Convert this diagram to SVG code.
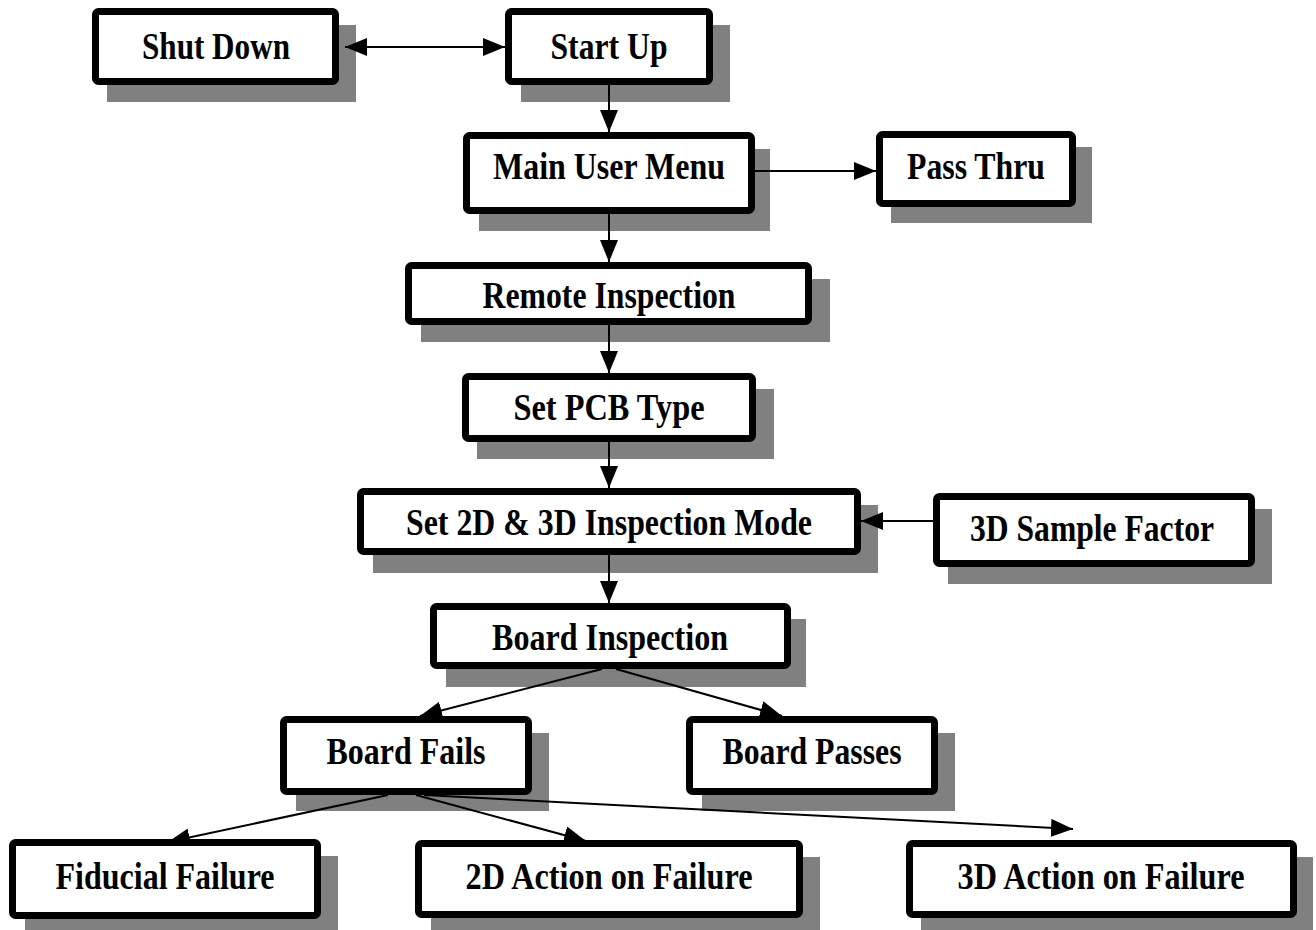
<svg xmlns="http://www.w3.org/2000/svg" width="1316" height="930" viewBox="0 0 1316 930">
<defs>
<style>
.sh{fill:#808080;stroke:none}
.bx{fill:#fff;stroke:#000;stroke-width:7;stroke-linejoin:round}
.t{font-family:"Liberation Serif","Times New Roman",serif;font-weight:bold;font-size:37px;fill:#000;text-anchor:middle}
.c{stroke:#000;stroke-width:2;fill:none}
</style>
<marker id="ah" markerUnits="userSpaceOnUse" markerWidth="22" markerHeight="18" refX="22" refY="9" orient="auto-start-reverse" viewBox="0 0 22 18">
<path d="M0,0 L22,9 L0,18 z" fill="#000"/>
</marker>
</defs>
<rect width="1316" height="930" fill="#fff"/>
<g id="shut-down">
<rect class="sh" x="107" y="25" width="249" height="77"/>
<rect class="bx" x="95.5" y="11.5" width="240" height="70" rx="3"/>
<text class="t" x="216" y="59" textLength="148" lengthAdjust="spacingAndGlyphs">Shut Down</text>
</g>
<g id="start-up">
<rect class="sh" x="521" y="25" width="209" height="77"/>
<rect class="bx" x="508.5" y="11.5" width="201" height="70" rx="3"/>
<text class="t" x="609" y="59" textLength="117" lengthAdjust="spacingAndGlyphs">Start Up</text>
</g>
<g id="main-user-menu">
<rect class="sh" x="479" y="149" width="291" height="82"/>
<rect class="bx" x="466.5" y="135.5" width="285" height="75" rx="3"/>
<text class="t" x="609" y="179" textLength="232" lengthAdjust="spacingAndGlyphs">Main User Menu</text>
</g>
<g id="pass-thru">
<rect class="sh" x="891" y="147" width="201" height="76"/>
<rect class="bx" x="879.5" y="134.5" width="193" height="69" rx="3"/>
<text class="t" x="976" y="179" textLength="138" lengthAdjust="spacingAndGlyphs">Pass Thru</text>
</g>
<g id="remote-inspection">
<rect class="sh" x="421" y="279" width="409" height="63"/>
<rect class="bx" x="408.5" y="265.5" width="400" height="56" rx="3"/>
<text class="t" x="609" y="308" textLength="253" lengthAdjust="spacingAndGlyphs">Remote Inspection</text>
</g>
<g id="set-pcb-type">
<rect class="sh" x="477" y="389" width="297" height="70"/>
<rect class="bx" x="465.5" y="376.5" width="287" height="62" rx="3"/>
<text class="t" x="609" y="420" textLength="191" lengthAdjust="spacingAndGlyphs">Set PCB Type</text>
</g>
<g id="set-2d-3d">
<rect class="sh" x="373" y="505" width="505" height="68"/>
<rect class="bx" x="360.5" y="491.5" width="497" height="60" rx="3"/>
<text class="t" x="609" y="535" textLength="406" lengthAdjust="spacingAndGlyphs">Set 2D &amp; 3D Inspection Mode</text>
</g>
<g id="sample-factor">
<rect class="sh" x="948" y="509" width="324" height="75"/>
<rect class="bx" x="936.5" y="496.5" width="315" height="67" rx="3"/>
<text class="t" x="1092" y="541" textLength="244" lengthAdjust="spacingAndGlyphs">3D Sample Factor</text>
</g>
<g id="board-inspection">
<rect class="sh" x="446" y="619" width="360" height="68"/>
<rect class="bx" x="433.5" y="606.5" width="354" height="59" rx="3"/>
<text class="t" x="610" y="650" textLength="236" lengthAdjust="spacingAndGlyphs">Board Inspection</text>
</g>
<g id="board-fails">
<rect class="sh" x="296" y="733" width="253" height="78"/>
<rect class="bx" x="283.5" y="719.5" width="245" height="72" rx="3"/>
<text class="t" x="406" y="764" textLength="159" lengthAdjust="spacingAndGlyphs">Board Fails</text>
</g>
<g id="board-passes">
<rect class="sh" x="702" y="733" width="253" height="78"/>
<rect class="bx" x="689.5" y="719.5" width="245" height="72" rx="3"/>
<text class="t" x="812" y="764" textLength="179" lengthAdjust="spacingAndGlyphs">Board Passes</text>
</g>
<g id="fiducial-failure">
<rect class="sh" x="25" y="856" width="313" height="80"/>
<rect class="bx" x="12.5" y="842.5" width="305" height="73" rx="3"/>
<text class="t" x="165" y="889" textLength="219" lengthAdjust="spacingAndGlyphs">Fiducial Failure</text>
</g>
<g id="action-2d">
<rect class="sh" x="431" y="857" width="389" height="79"/>
<rect class="bx" x="418.5" y="843.5" width="381" height="71" rx="3"/>
<text class="t" x="609" y="889" textLength="287" lengthAdjust="spacingAndGlyphs">2D Action on Failure</text>
</g>
<g id="action-3d">
<rect class="sh" x="921" y="857" width="392" height="79"/>
<rect class="bx" x="909.5" y="843.5" width="384" height="71" rx="3"/>
<text class="t" x="1101" y="889" textLength="287" lengthAdjust="spacingAndGlyphs">3D Action on Failure</text>
</g>
<g id="connectors">
<line class="c" x1="345" y1="47" x2="505" y2="47" marker-start="url(#ah)" marker-end="url(#ah)"/>
<line class="c" x1="609" y1="85" x2="609" y2="132" marker-end="url(#ah)"/>
<line class="c" x1="755" y1="171" x2="876" y2="171" marker-end="url(#ah)"/>
<line class="c" x1="609" y1="214" x2="609" y2="262" marker-end="url(#ah)"/>
<line class="c" x1="609" y1="325" x2="609" y2="373" marker-end="url(#ah)"/>
<line class="c" x1="609" y1="442" x2="609" y2="488" marker-end="url(#ah)"/>
<line class="c" x1="933" y1="521" x2="861" y2="521" marker-end="url(#ah)"/>
<line class="c" x1="609" y1="555" x2="609" y2="603" marker-end="url(#ah)"/>
<line class="c" x1="602" y1="669" x2="420" y2="716" marker-end="url(#ah)"/>
<line class="c" x1="616" y1="669" x2="782" y2="716" marker-end="url(#ah)"/>
<line class="c" x1="388" y1="795" x2="168" y2="842" marker-end="url(#ah)"/>
<line class="c" x1="416" y1="795" x2="586" y2="841" marker-end="url(#ah)"/>
<line class="c" x1="424" y1="795" x2="1073" y2="829" marker-end="url(#ah)"/>
</g>
</svg>
